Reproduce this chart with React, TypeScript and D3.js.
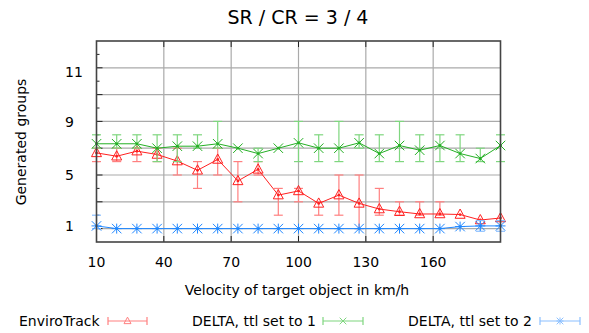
import React from "react";
import * as d3 from "d3";

// Velocity of the target object (km/h)
const velocity = [10, 19, 28, 37, 46, 55, 64, 73, 82, 91, 100, 109, 118, 127, 136, 145, 154, 163, 172, 181, 190];

// EnviroTrack
const enviroMean = [6.65, 6.4, 6.78, 6.53, 6.04, 5.35, 6.16, 4.56, 5.42, 3.5, 3.81, 2.88, 3.5, 2.88, 2.46, 2.26, 2.09, 2.09, 2.05, 1.64, 1.79];
const enviroLow = [6, 6, 6, 6, 5, 4, 5, 3, 5, 2, 3, 2, 2, 1, 2, 2, 2, 2, 2.05, 1.64, 1.79];
const enviroHigh = [7, 7, 7, 7, 7, 6, 7, 6, 6, 4, 4, 3, 5, 5, 4, 3, 3, 3, 2.05, 1.64, 1.79];

// DELTA, ttl = 1
const ttl1Mean = [7.33, 7.33, 7.33, 7.0, 7.15, 7.15, 7.33, 7.0, 6.6, 7.0, 7.4, 7.0, 7.0, 7.4, 6.6, 7.2, 6.85, 7.2, 6.6, 6.23, 7.2];
const ttl1Low = [7, 7, 7, 6, 6, 7, 7, 7, 6, 7, 6, 6, 6, 7, 6, 6, 6, 6, 6, 6, 6];
const ttl1High = [8, 8, 8, 8, 8, 8, 9, 7, 7, 7, 9, 8, 9, 8, 8, 9, 8, 8, 8, 7, 8];

// DELTA, ttl = 2
const ttl2Mean = [1.2, 1, 1, 1, 1, 1, 1, 1, 1, 1, 1, 1, 1, 1, 1, 1, 1, 1, 1.15, 1.2, 1.2];
const ttl2Low = [1.0, 1, 1, 1, 1, 1, 1, 1, 1, 1, 1, 1, 1, 1, 1, 1, 1, 1, 1.15, 0.8, 0.8];
const ttl2High = [2.0, 1, 1, 1, 1, 1, 1, 1, 1, 1, 1, 1, 1, 1, 1, 1, 1, 1, 1.15, 1.6, 1.6];

// Axis ticks
const xTickValues = [10, 40, 70, 100, 130, 160];
const xGridValues = [40, 70, 100, 130, 160];
const yGridValues = [1, 3, 5, 7, 9, 11, 13];
const yMinorValues = [2, 4, 6, 8, 10, 12, 14];
const yLabelValues = [1.2, 5, 8.95, 12.7];
const yLabelTexts = ["1", "5", "9", "11"];

const W = 589;
const H = 333;
const FONT = "DejaVu Sans, sans-serif";

type Marker = "triangle" | "cross" | "star";

interface Series {
  name: string;
  mean: number[];
  low: number[];
  high: number[];
  color: string;
  barColor: string;
  marker: Marker;
}

const series: Series[] = [
  { name: "EnviroTrack", mean: enviroMean, low: enviroLow, high: enviroHigh, color: "#ff2020", barColor: "#ff8080", marker: "triangle" },
  { name: "DELTA, ttl set to 1", mean: ttl1Mean, low: ttl1Low, high: ttl1High, color: "#25b025", barColor: "#7fd67f", marker: "cross" },
  { name: "DELTA, ttl set to 2", mean: ttl2Mean, low: ttl2Low, high: ttl2High, color: "#2188ff", barColor: "#8cc0ff", marker: "star" },
];

function MarkerShape({ kind, cx, cy, color, r = 5 }: { kind: Marker; cx: number; cy: number; color: string; r?: number }) {
  if (kind === "triangle") {
    const pts = [
      [cx, cy - r * 1.1],
      [cx - r, cy + r * 0.75],
      [cx + r, cy + r * 0.75],
    ];
    return <polygon points={pts.map((p) => p.join(",")).join(" ")} fill="none" stroke={color} strokeWidth={1} />;
  }
  const d = r * 0.95;
  const cross = `M${cx - d},${cy - d}L${cx + d},${cy + d}M${cx - d},${cy + d}L${cx + d},${cy - d}`;
  if (kind === "cross") {
    return <path d={cross} stroke={color} strokeWidth={1} fill="none" />;
  }
  return (
    <path
      d={`${cross}M${cx - r},${cy}L${cx + r},${cy}M${cx},${cy - r}L${cx},${cy + r}`}
      stroke={color}
      strokeWidth={1}
      fill="none"
    />
  );
}

export default function App() {
  const left = 96.5;
  const right = 500.5;
  const top = 41;
  const bottom = 242;

  const x = d3.scaleLinear().domain([10, 190]).range([left, right]);
  const y = d3.scaleLinear().domain([0, 15]).range([bottom, top]);

  const lineGen = d3
    .line<number>()
    .x((_, i) => x(velocity[i]))
    .y((v) => y(v));

  const cap = 4.5;

  const legendItems = [
    { textX: 19, lineX1: 108, lineX2: 147 },
    { textX: 192, lineX1: 323, lineX2: 363 },
    { textX: 408, lineX1: 540, lineX2: 580 },
  ];
  const legendY = 321;

  return (
    <svg
      width={W}
      height={H}
      viewBox={`0 0 ${W} ${H}`}
      style={{ position: "absolute", left: 0, top: 0, background: "#fff" }}
      fontFamily={FONT}
    >
      <rect x={0} y={0} width={W} height={H} fill="#fff" />

      {/* grid */}
      {xGridValues.map((v) => (
        <line key={`gx${v}`} x1={x(v)} x2={x(v)} y1={top} y2={bottom} stroke="#aaaaaa" strokeWidth={1.2} />
      ))}
      {yGridValues.map((v) => (
        <line key={`gy${v}`} x1={left} x2={right} y1={y(v)} y2={y(v)} stroke="#aaaaaa" strokeWidth={1.2} />
      ))}

      {/* ticks */}
      {xTickValues.map((v) => (
        <g key={`tx${v}`}>
          <line x1={x(v)} x2={x(v)} y1={bottom} y2={bottom - 6} stroke="#222" strokeWidth={1} />
          <line x1={x(v)} x2={x(v)} y1={top} y2={top + 6} stroke="#222" strokeWidth={1} />
        </g>
      ))}
      {yGridValues.map((v) => (
        <line key={`ty${v}`} x1={left} x2={left + 6} y1={y(v)} y2={y(v)} stroke="#222" strokeWidth={1} />
      ))}
      {yMinorValues.map((v) => (
        <line key={`tm${v}`} x1={left} x2={left + 3} y1={y(v)} y2={y(v)} stroke="#222" strokeWidth={1} />
      ))}

      {/* series */}
      {series.map((s) => (
        <g key={s.name}>
          {velocity.map((vel, i) =>
            s.high[i] - s.low[i] > 0.01 ? (
              <g key={i} stroke={s.barColor} strokeWidth={1.2}>
                <line x1={x(vel)} x2={x(vel)} y1={y(s.low[i])} y2={y(s.high[i])} />
                <line x1={x(vel) - cap} x2={x(vel) + cap} y1={y(s.low[i])} y2={y(s.low[i])} />
                <line x1={x(vel) - cap} x2={x(vel) + cap} y1={y(s.high[i])} y2={y(s.high[i])} />
              </g>
            ) : null
          )}
          <path d={lineGen(s.mean) || ""} fill="none" stroke={s.color} strokeWidth={1} />
          {velocity.map((vel, i) => (
            <g key={`m${i}`}>
              <MarkerShape kind={s.marker} cx={x(vel)} cy={y(s.mean[i])} color={s.color} />
              <circle cx={x(vel)} cy={y(s.mean[i])} r={1.4} fill={s.color} />
            </g>
          ))}
        </g>
      ))}

      {/* border */}
      <rect x={left} y={top} width={right - left} height={bottom - top} fill="none" stroke="#444" strokeWidth={1.6} />

      {/* axis labels */}
      {xTickValues.map((v) => (
        <text key={`lx${v}`} x={x(v)} y={267} textAnchor="middle" fontSize={14} fill="#000">
          {v}
        </text>
      ))}
      {yLabelValues.map((v, i) => (
        <text key={`ly${v}`} x={65} y={y(v) + 5} textAnchor="start" fontSize={14} fill="#000">
          {yLabelTexts[i]}
        </text>
      ))}

      <text x={298} y={24} textAnchor="middle" fontSize={19} fill="#000">
        SR / CR = 3 / 4
      </text>
      <text x={297} y={295} textAnchor="middle" fontSize={14} fill="#000">
        Velocity of target object in km/h
      </text>
      <text transform="translate(26,142) rotate(-90)" textAnchor="middle" fontSize={14} fill="#000">
        Generated groups
      </text>

      {/* legend */}
      {series.map((s, k) => {
        const it = legendItems[k];
        const mid = (it.lineX1 + it.lineX2) / 2;
        return (
          <g key={`lg${k}`}>
            <text x={it.textX} y={legendY + 5} fontSize={14} fill="#000">
              {s.name}
            </text>
            <g stroke={s.barColor} strokeWidth={1.2}>
              <line x1={it.lineX1} x2={it.lineX2} y1={legendY} y2={legendY} />
              <line x1={it.lineX1} x2={it.lineX1} y1={legendY - 4} y2={legendY + 4} />
              <line x1={it.lineX2} x2={it.lineX2} y1={legendY - 4} y2={legendY + 4} />
            </g>
            <MarkerShape kind={s.marker} cx={mid} cy={legendY} color={s.barColor} r={3.5} />
          </g>
        );
      })}
    </svg>
  );
}
